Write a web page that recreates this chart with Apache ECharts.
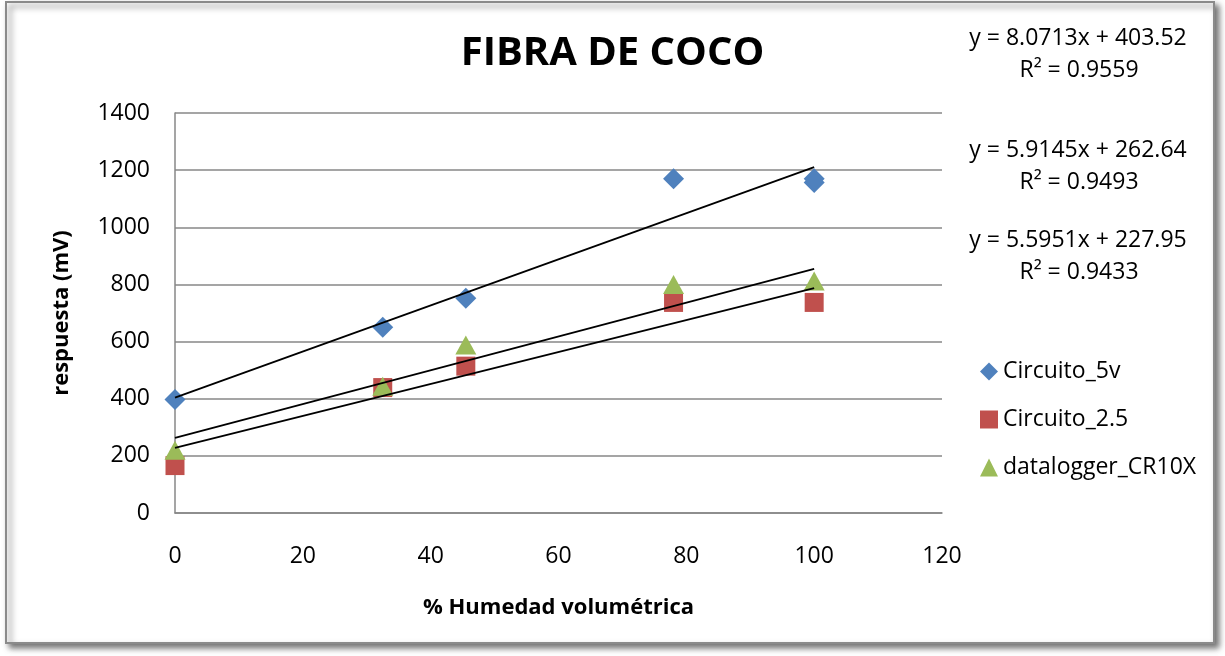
<!DOCTYPE html>
<html>
<head>
<meta charset="utf-8">
<title>FIBRA DE COCO</title>
<script src="https://cdn.jsdelivr.net/npm/echarts@6/dist/echarts.min.js"></script>
<style>
  html, body { margin: 0; padding: 0; background: #ffffff; }
  #chart { width: 1225px; height: 656px; }
</style>
</head>
<body>
<div id="chart"></div>
<script>
// Humedad volumétrica (%) and sensor response (mV) for each measuring setup
const circuito5vX = [0, 32.5, 45.5, 78, 100, 100];
const circuito5vY = [397, 650, 752, 1170, 1157, 1170];
const circuito25X = [0, 32.5, 45.5, 78, 100];
const circuito25Y = [166, 439, 514, 737, 737];
const dataloggerX = [0, 32.5, 45.5, 78, 100];
const dataloggerY = [220, 444, 588, 800, 812];

const seriesNames = ['Circuito_5v', 'Circuito_2.5', 'datalogger_CR10X'];

// Linear trendlines: slope, intercept and R² for each series
const trendSlope = [8.0713, 5.5951, 5.9145];
const trendIntercept = [403.52, 227.95, 262.64];
const trendR2 = ['0.9559', '0.9433', '0.9493'];
const trendRange = [0, 100];

const xTicks = { min: 0, max: 120, interval: 20 };
const yTicks = { min: 0, max: 1400, interval: 200 };

const FONT = '"Open Sans", "Noto Sans", sans-serif';
const colors = ['#4F81BD', '#C0504D', '#9BBB59'];
const symbols = ['diamond', 'rect', 'triangle'];
const sizes = [[21, 21], [19, 19], [21, 19]];

function pairs(xs, ys) { return xs.map((x, i) => [x, ys[i]]); }
const pointSets = [
  pairs(circuito5vX, circuito5vY),
  pairs(circuito25X, circuito25Y),
  pairs(dataloggerX, dataloggerY)
];

function eqText(i) {
  return 'y = ' + trendSlope[i].toFixed(4) + 'x + ' + trendIntercept[i].toFixed(2);
}

const chart = echarts.init(document.getElementById('chart'), null, { renderer: 'canvas' });

const scatterSeries = seriesNames.map((name, i) => ({
  name: name,
  type: 'scatter',
  data: pointSets[i],
  symbol: symbols[i],
  symbolSize: sizes[i],
  itemStyle: { color: colors[i], opacity: 1 },
  z: 3 + i
}));

const trendSeries = seriesNames.map((name, i) => ({
  name: name + ' trend',
  type: 'line',
  data: trendRange.map(x => [x, trendSlope[i] * x + trendIntercept[i]]),
  showSymbol: false,
  symbol: 'none',
  silent: true,
  lineStyle: { color: '#000000', width: 1.8 },
  z: 10
}));

// Equation labels at the right of the plot, ordered top to bottom
const eqOrder = [0, 2, 1];
const eqCenters = [38, 150, 240];
const eqGraphics = [];
eqOrder.forEach((s, k) => {
  eqGraphics.push({
    type: 'text', x: 1078, y: eqCenters[k], z: 20,
    style: { text: eqText(s), font: '23px ' + FONT, fill: '#000', align: 'center', verticalAlign: 'middle' }
  });
  eqGraphics.push({
    type: 'text', x: 1079, y: eqCenters[k] + 32, z: 20,
    style: { text: 'R² = ' + trendR2[s], font: '23px ' + FONT, fill: '#000', align: 'center', verticalAlign: 'middle' }
  });
});

const option = {
  animation: false,
  backgroundColor: '#ffffff',
  title: {
    text: 'FIBRA DE COCO',
    left: 'center',
    top: 29,
    textStyle: { fontFamily: FONT, fontSize: 40, fontWeight: 'bold', color: '#000' }
  },
  graphic: [
    {
      type: 'rect', z: -10, silent: true,
      shape: { x: 6, y: 2, width: 1208, height: 641 },
      style: {
        fill: '#ffffff', stroke: '#8a8a8a', lineWidth: 2,
        shadowColor: 'rgba(0,0,0,0.55)', shadowBlur: 6, shadowOffsetX: 4, shadowOffsetY: 4
      }
    }
  ].concat(eqGraphics),
  legend: {
    data: seriesNames,
    orient: 'vertical',
    left: 975,
    top: 355,
    itemGap: 25,
    itemWidth: 18,
    itemHeight: 18,
    textStyle: { fontFamily: FONT, fontSize: 23, color: '#000' }
  },
  grid: { left: 175, top: 113, width: 767, height: 400, containLabel: false },
  xAxis: {
    type: 'value',
    min: xTicks.min, max: xTicks.max, interval: xTicks.interval,
    name: '% Humedad volumétrica',
    nameLocation: 'middle',
    nameGap: 84,
    nameTextStyle: { fontFamily: FONT, fontSize: 22, fontWeight: 'bold', color: '#000' },
    axisLine: { show: true, lineStyle: { color: '#878787', width: 1.5 } },
    axisTick: { show: false },
    axisLabel: { margin: 32, fontFamily: FONT, fontSize: 23, color: '#000' },
    splitLine: { show: false }
  },
  yAxis: {
    type: 'value',
    min: yTicks.min, max: yTicks.max, interval: yTicks.interval,
    name: 'respuesta (mV)',
    nameLocation: 'middle',
    nameGap: 102,
    nameTextStyle: { fontFamily: FONT, fontSize: 22, fontWeight: 'bold', color: '#000' },
    axisLine: { show: true, lineStyle: { color: '#878787', width: 1.5 } },
    axisTick: { show: false },
    axisLabel: { margin: 25, fontFamily: FONT, fontSize: 23, color: '#000', formatter: v => String(v) },
    splitLine: { show: true, lineStyle: { color: '#878787', width: 1.5 } }
  },
  series: scatterSeries.concat(trendSeries)
};

chart.setOption(option);
</script>
</body>
</html>
